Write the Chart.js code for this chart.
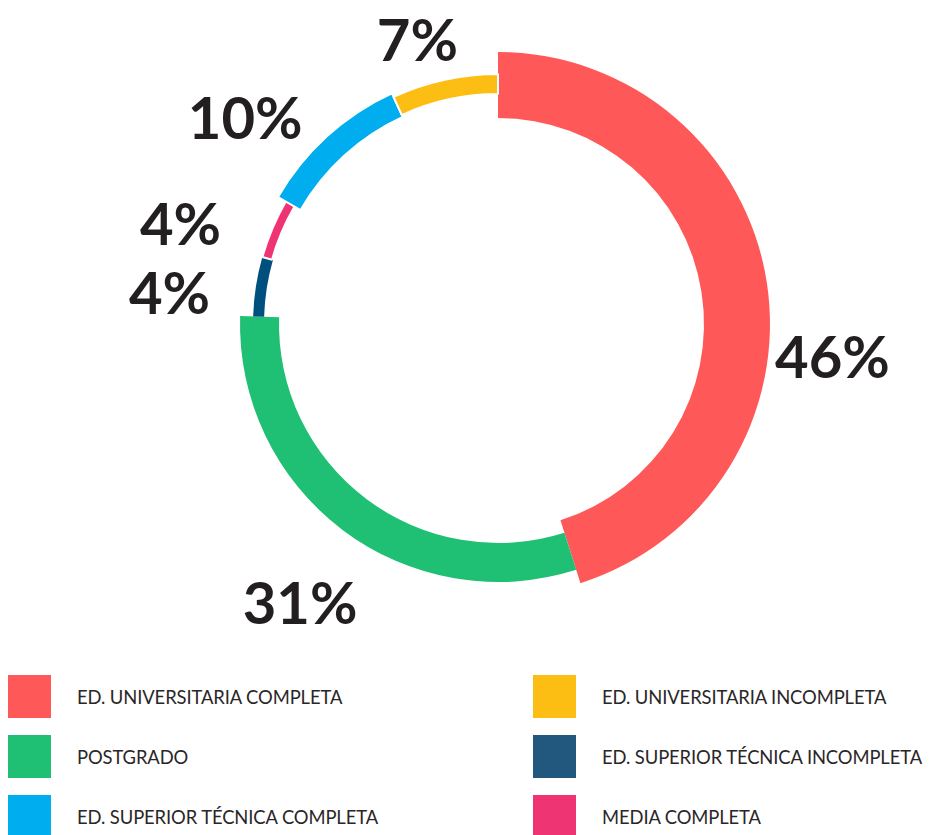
<!DOCTYPE html>
<html>
<head>
<meta charset="utf-8">
<script src="https://cdn.jsdelivr.net/npm/chart.js@4.4.0/dist/chart.umd.min.js"></script>
<style>
  html, body { margin: 0; padding: 0; background: #ffffff; }
  #wrap { position: relative; width: 930px; height: 835px; overflow: hidden; }
  #chart { position: absolute; left: 0; top: 0; }
  .leg { position: absolute; display: flex; align-items: center; font-family: Lato, "Open Sans", sans-serif; font-size: 18.4px; letter-spacing: -0.1px; color: #2a2627; white-space: nowrap; }
  .leg .sw { width: 43px; height: 43px; margin-right: 26px; flex: none; }
</style>
</head>
<body>
<div id="wrap">
  <canvas id="chart" width="930" height="650"></canvas>
  <div id="legend"></div>
</div>
<script>
// ---- data ----
const categories = [
  "ED. UNIVERSITARIA COMPLETA",
  "POSTGRADO",
  "ED. SUPERIOR TÉCNICA INCOMPLETA",
  "MEDIA COMPLETA",
  "ED. SUPERIOR TÉCNICA COMPLETA",
  "ED. UNIVERSITARIA INCOMPLETA"
];
const percentages = [46, 31, 4, 4, 10, 7];
const percentLabels = ["46%", "31%", "4%", "4%", "10%", "7%"];

// ---- styles ----
const segmentColors = ["#ff5858", "#1fbf74", "#00507f", "#ef3474", "#00aeef", "#fdbe14"];
const legendColors  = ["#ff5858", "#1fbf74", "#22577e", "#ef3474", "#00aeef", "#fdbe14"];
const borderWidths = [0, 0, 0, 2, 2, 2];
const ringInner = [206, 219, 234, 235, 228, 230];
const ringOuter = [272, 258, 245, 245, 254, 250];
const labelRadius = [336, 342, 330, 333, 326, 295];
const labelAngleShift = [14.4, -1.7, -3.4, -5.4, -8.5, -3.5];
// legend grid order: [categoryIndex, column, row]
const legendLayout = [[0,0,0],[1,0,1],[4,0,2],[5,1,0],[2,1,1],[3,1,2]];

const ringPlugin = {
  id: 'ringWidths',
  afterDatasetUpdate(chart, args) {
    args.meta.data.forEach((arc, i) => {
      arc.innerRadius = ringInner[i];
      arc.outerRadius = ringOuter[i];
    });
  }
};

const labelPlugin = {
  id: 'pctLabels',
  afterDatasetsDraw(chart) {
    const ctx = chart.ctx;
    const meta = chart.getDatasetMeta(0);
    ctx.save();
    const size = 58;
    ctx.font = "700 " + size + "px Lato, 'Open Sans', sans-serif";
    ctx.fillStyle = "#231f20";
    ctx.textAlign = "center";
    ctx.textBaseline = "alphabetic";
    meta.data.forEach((arc, i) => {
      const p = arc.getProps(['x','y','startAngle','endAngle'], true);
      const a = (p.startAngle + p.endAngle) / 2 + labelAngleShift[i] * Math.PI / 180;
      const x = p.x + Math.cos(a) * labelRadius[i];
      const y = p.y + Math.sin(a) * labelRadius[i];
      ctx.fillText(percentLabels[i], x, y + size * 0.36);
    });
    ctx.restore();
  }
};

new Chart(document.getElementById('chart'), {
  type: 'doughnut',
  data: {
    labels: categories,
    datasets: [{
      data: percentages,
      backgroundColor: segmentColors,
      borderColor: "#ffffff",
      borderWidth: borderWidths
    }]
  },
  options: {
    responsive: false,
    animation: false,
    devicePixelRatio: 1,
    radius: 272,
    cutout: 206,
    layout: { padding: { left: 66, right: 0, top: 52, bottom: 54 } },
    plugins: { legend: { display: false }, tooltip: { enabled: false } },
    events: []
  },
  plugins: [ringPlugin, labelPlugin]
});

// ---- HTML legend ----
const legEl = document.getElementById('legend');
const colX = [8, 533];
const rowY = [675, 735, 795];
legendLayout.forEach(([ci, col, row]) => {
  const d = document.createElement('div');
  d.className = 'leg';
  d.style.left = colX[col] + 'px';
  d.style.top = rowY[row] + 'px';
  d.style.height = '43px';
  const sw = document.createElement('div');
  sw.className = 'sw';
  sw.style.background = legendColors[ci];
  const t = document.createElement('span');
  t.textContent = categories[ci];
  d.appendChild(sw); d.appendChild(t);
  legEl.appendChild(d);
});
</script>
</body>
</html>
